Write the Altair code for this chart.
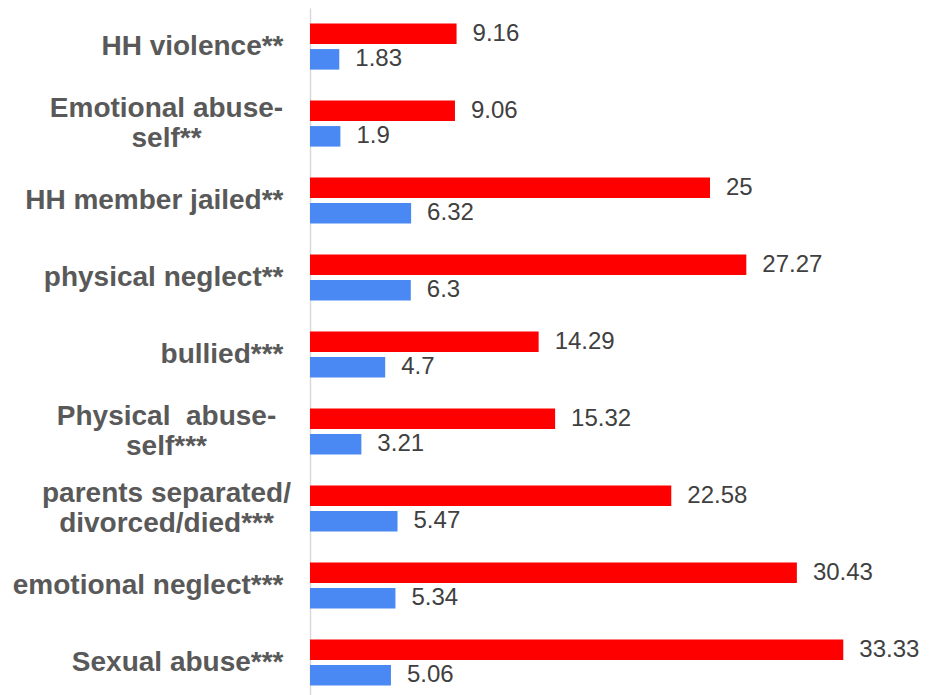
import altair as alt
import pandas as pd

categories = [
    "HH violence**",
    "Emotional abuse-|self**",
    "HH member jailed**",
    "physical neglect**",
    "bullied***",
    "Physical\u00a0 abuse-|self***",
    "parents separated/|divorced/died***",
    "emotional neglect***",
    "Sexual abuse***",
]
series = ["Series 1", "Series 2"]
red_values = [9.16, 9.06, 25, 27.27, 14.29, 15.32, 22.58, 30.43, 33.33]
blue_values = [1.83, 1.9, 6.32, 6.3, 4.7, 3.21, 5.47, 5.34, 5.06]
colors = ["#FF0000", "#4A89F3"]

rows = []
for c, r, b in zip(categories, red_values, blue_values):
    rows.append({"category": c, "series": series[0], "value": r})
    rows.append({"category": c, "series": series[1], "value": b})
df = pd.DataFrame(rows)

multi_test = "indexof(datum.value, '|') >= 0"

y_enc = alt.Y(
    "category:N",
    sort=categories,
    title=None,
    scale=alt.Scale(paddingInner=0.4, paddingOuter=0.2),
    axis=alt.Axis(
        labelExpr="split(datum.label, '|')",
        labelAlign={"condition": {"test": multi_test, "value": "center"}, "value": "right"},
        labelPadding={"condition": {"test": multi_test, "value": 144}, "value": 27},
        labelOffset={"condition": {"test": multi_test, "value": -15}, "value": 0},
        labelBaseline="middle",
        labelLineHeight=30,
        labelFont="Liberation Sans",
        labelFontSize=28,
        labelFontWeight="bold",
        labelColor="#595959",
        labelLimit=400,
        ticks=False,
        grid=False,
        domainColor="#d9d9d9",
        domainWidth=1.5,
    ),
)

base = alt.Chart(df).encode(
    x=alt.X("value:Q", scale=alt.Scale(domain=[0, 38]), axis=None),
    y=y_enc,
    yOffset=alt.YOffset("series:N", sort=series,
                        scale=alt.Scale(paddingInner=0.2, paddingOuter=0)),
)

bars = base.mark_bar().encode(
    color=alt.Color("series:N", scale=alt.Scale(domain=series, range=colors), legend=None)
)

labels = base.mark_text(
    align="left", baseline="middle", dx=16, fontSize=24, font="Liberation Sans"
).encode(
    text=alt.Text("value:Q"),
    color=alt.value("#404040"),
)

chart = alt.layer(bars, labels).properties(
    width=608,
    height=693,
    padding={"left": 4, "top": 0, "right": 0, "bottom": 0},
).configure_view(stroke=None)

chart.save("out.html", embed_options={"renderer": "svg", "actions": False})
